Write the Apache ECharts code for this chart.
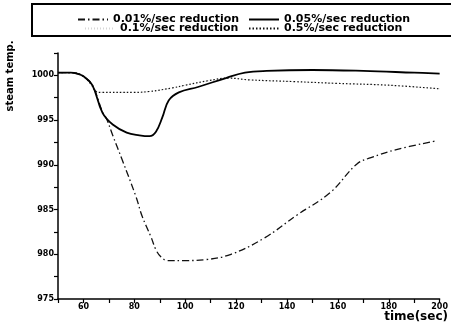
<!DOCTYPE html>
<html>
<head>
<meta charset="utf-8">
<script src="https://cdn.jsdelivr.net/npm/echarts@6/dist/echarts.min.js"></script>
<style>html,body{margin:0;padding:0;background:#fff}#c{width:451px;height:328px}</style>
</head>
<body>
<div id="c"></div>
<script>
const seriesNames = ['0.01%/sec reduction', '0.05%/sec reduction', '0.1%/sec reduction', '0.5%/sec reduction'];
const xTickLabels = [60, 80, 100, 120, 140, 160, 180, 200];
const yTickLabels = [975, 980, 985, 990, 995, 1000];

const red001 = [[50,1000.3],[55,1000.3],[57.5,1000.2],[60,999.9],[63.5,998.9],[67.5,995.9],[69,995.2],[71.5,993.3],[75.3,990.5],[80.7,986.4],[83,984.3],[86.6,981.9],[88.5,980.5],[90.5,979.7],[93,979.3],[100,979.3],[108,979.4],[118,980.0],[131,981.8],[144,984.4],[157,986.9],[167.5,990.1],[173,990.8],[183,991.7],[199,992.7]];
const red005 = [[50,1000.3],[55,1000.3],[57.5,1000.2],[60,999.9],[63.5,998.9],[67.5,995.8],[71.5,994.5],[77,993.6],[82,993.3],[86,993.2],[88.5,993.7],[91,995.3],[93.5,997.2],[97.5,998.1],[105,998.7],[116,999.7],[123.5,1000.3],[132,1000.5],[150,1000.6],[170,1000.5],[190,1000.3],[200,1000.2]];
const red01 = [[50,1000.3],[55,1000.3],[58,1000.2],[60,999.9],[63,999.0],[65,998.2],[67,998.1],[80,998.1],[86,998.2],[95,998.6],[100,998.9],[109,999.4],[117,999.7],[125,999.5],[143,999.3],[160,999.1],[180,998.9],[200,998.5]];
const red05 = [[50,1000.3],[55,1000.3],[58,1000.2],[60,999.9],[63,999.0],[65,998.2],[67,998.1],[80,998.1],[86,998.2],[95,998.6],[100,998.9],[109,999.4],[117,999.7],[125,999.5],[143,999.3],[160,999.1],[180,998.9],[200,998.5]];

const FONT = 'DejaVu Sans';
const chart = echarts.init(document.getElementById('c'), null, {renderer: 'canvas'});

function legendAt(name, left, top) {
  return {
    data: [name], left: left, top: top, orient: 'horizontal',
    itemWidth: 30, itemHeight: 2, selectedMode: false, padding: 0,
    itemStyle: {opacity: 0, borderWidth: 0},
    textStyle: {fontFamily: FONT, fontWeight: 'bold', fontSize: 11, color: '#000', lineHeight: 11}
  };
}

chart.setOption({
  animation: false,
  backgroundColor: '#fff',
  grid: {left: 58, right: 8, top: 53, bottom: 29, containLabel: false},
  legend: [
    legendAt(seriesNames[0], 77, 14),
    legendAt(seriesNames[1], 248, 14),
    legendAt(seriesNames[2], 84, 23),
    legendAt(seriesNames[3], 248, 23)
  ],
  graphic: [
    {type: 'rect', shape: {x: 32, y: 4, width: 440, height: 32}, style: {fill: 'none', stroke: '#000', lineWidth: 2}, z: 10},
    {type: 'text', x: 10, y: 76, rotation: Math.PI / 2, style: {text: 'steam temp.', fontFamily: FONT, fontWeight: 'bold', fontSize: 10, fill: '#000', align: 'center', verticalAlign: 'middle'}},
    {type: 'text', x: 448, y: 317, style: {text: 'time(sec)', fontFamily: FONT, fontWeight: 'bold', fontSize: 12, fill: '#000', align: 'right', verticalAlign: 'middle'}}
  ],
  xAxis: {
    type: 'value', min: 50, max: 200, interval: 10,
    axisLine: {lineStyle: {color: '#000', width: 1.5}},
    axisTick: {show: true, inside: false, length: 4, lineStyle: {color: '#000', width: 1.2}},
    splitLine: {show: false},
    axisLabel: {
      margin: 4, fontFamily: FONT, fontWeight: 'bold', fontSize: 8, color: '#000',
      showMaxLabel: true, showMinLabel: true,
      formatter: v => xTickLabels.indexOf(v) >= 0 ? String(v) : ''
    }
  },
  yAxis: {
    type: 'value', min: 975, max: 1002.5, interval: 2.5,
    axisLine: {show: true, lineStyle: {color: '#000', width: 1.5}},
    axisTick: {show: true, inside: false, length: 4, lineStyle: {color: '#000', width: 1.2}},
    splitLine: {show: false},
    axisLabel: {
      margin: 4, fontFamily: FONT, fontWeight: 'bold', fontSize: 8, color: '#000',
      formatter: v => yTickLabels.indexOf(v) >= 0 ? String(v) : ''
    }
  },
  series: [
    {name: seriesNames[2], type: 'line', data: red01, smooth: 0.4, showSymbol: false, symbol: 'none', z: 1,
     lineStyle: {color: '#d6d6d6', width: 0.8, type: [1, 2]}, itemStyle: {color: '#d6d6d6'}},
    {name: seriesNames[3], type: 'line', data: red05, smooth: 0.4, showSymbol: false, symbol: 'none', z: 2,
     lineStyle: {color: '#111', width: 1.2, type: [1.5, 2]}, itemStyle: {color: '#111'}},
    {name: seriesNames[0], type: 'line', data: red001, smooth: 0.4, showSymbol: false, symbol: 'none', z: 3,
     lineStyle: {color: '#111', width: 1.3, type: [7, 3, 1.5, 3]}, itemStyle: {color: '#111'}},
    {name: seriesNames[1], type: 'line', data: red005, smooth: 0.4, showSymbol: false, symbol: 'none', z: 4,
     lineStyle: {color: '#000', width: 1.8, type: 'solid'}, itemStyle: {color: '#000'}}
  ]
});
</script>
</body>
</html>
